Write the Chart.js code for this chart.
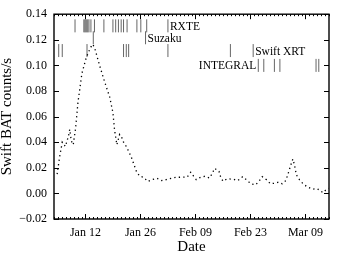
<!doctype html>
<html>
<head>
<meta charset="utf-8">
<title>Swift BAT light curve</title>
<script src="https://cdn.jsdelivr.net/npm/chart.js@4/dist/chart.umd.min.js"></script>
<style>
  html, body { margin: 0; padding: 0; background: #fff; }
  #wrap { width: 342px; height: 255px; }
</style>
</head>
<body>
<div id="wrap"><canvas id="c"></canvas></div>
<script>
// day of year (Jan 12 = 12, Feb 09 = 40, Mar 09 = 68)
var batDays = [4.8, 5.4, 6.1, 6.9, 7.7, 8.0, 8.4, 8.9, 9.5, 10.1, 11.1, 12.2, 13.3, 13.9,
  14.5, 15.6, 16.8, 18.2, 19.0, 19.4, 20.0, 20.7, 21.2, 21.7, 22.4, 23.6, 25.0, 25.8,
  26.8, 27.9, 29.0, 30.2, 31.4, 32.6, 33.8, 35.2, 36.5, 37.9, 38.8, 39.4, 40.2, 41.3,
  42.4, 43.6, 44.3, 44.9, 46.0, 46.4, 47.0, 48.1, 49.6, 50.8, 52.0, 53.0, 54.1, 55.3,
  56.2, 57.0, 58.1, 59.1, 60.2, 61.2, 62.1, 63.0, 63.5, 64.3, 64.8, 65.2, 65.7, 66.5,
  67.4, 68.5, 69.8, 71.0, 72.5, 73.3, 73.9];
var batRate = [0.015, 0.028, 0.040, 0.0366, 0.045, 0.050, 0.041, 0.038, 0.051, 0.071, 0.0937, 0.106, 0.114, 0.1165,
  0.112, 0.100, 0.088, 0.075, 0.063, 0.050, 0.038, 0.046, 0.044, 0.040, 0.0366, 0.029, 0.017, 0.0134,
  0.0126, 0.0093, 0.0108, 0.0118, 0.010, 0.0108, 0.0118, 0.0126, 0.0126, 0.0128, 0.0165, 0.014, 0.0108, 0.0126,
  0.0134, 0.012, 0.0157, 0.0196, 0.0172, 0.013, 0.0095, 0.0114, 0.0111, 0.010, 0.013, 0.0106, 0.0075, 0.0067,
  0.0095, 0.013, 0.0106, 0.0075, 0.008, 0.0088, 0.0075, 0.010, 0.0145, 0.0224, 0.0268, 0.0224, 0.0145, 0.0106,
  0.0075, 0.005, 0.0033, 0.0037, 0.0006, 0.003, 0.004];

// observation days per instrument
var rxteDays = [9.35, 11.6, 11.85, 12.1, 12.35, 12.6, 12.9, 13.4, 14.3, 16.7, 19.0, 19.7, 20.4, 21.1, 21.7, 22.6, 25.1, 26.1, 27.6, 33.0];
var suzakuDays = [14.0, 27.3];
var swiftXrtDays = [5.2, 6.1, 12.4, 21.7, 22.4, 23.0, 33.0, 48.9, 54.7];
var integralDays = [56.0, 57.4, 60.1, 61.5, 70.7, 71.4];

var rowLevel = { rxte: 0.1309, suzaku: 0.1216, swift: 0.1116, integral: 0.1000 };

var xTickDays = [12, 26, 40, 54, 68];
var xTickLabels = ["Jan 12", "Jan 26", "Feb 09", "Feb 23", "Mar 09"];
var yTicks = [-0.02, 0.00, 0.02, 0.04, 0.06, 0.08, 0.10, 0.12, 0.14];

var serif = "'Liberation Serif', 'DejaVu Serif', serif";

function toPoints(xs, ys) {
  return xs.map(function (d, i) { return { x: d, y: ys[i] }; });
}
function rowPoints(xs, level) {
  return xs.map(function (d) { return { x: d, y: level }; });
}
function markSet(label, xs, level) {
  return {
    type: 'scatter', label: label, data: rowPoints(xs, level),
    pointStyle: 'line', rotation: 90, pointRadius: 6.5,
    borderColor: '#666', pointBorderWidth: 1, backgroundColor: '#666'
  };
}

// frame, inward ticks and instrument labels
var framePlugin = {
  id: 'frame',
  afterDraw: function (chart) {
    var ctx = chart.ctx, a = chart.chartArea;
    var xs = chart.scales.x, ys = chart.scales.y;
    ctx.save();
    ctx.strokeStyle = '#000';
    ctx.lineWidth = 1;
    ctx.beginPath();
    // daily minor ticks on top and bottom
    for (var d = Math.ceil(xs.min); d <= xs.max; d++) {
      var px = Math.round(xs.getPixelForValue(d)) + 0.5;
      var len = xTickDays.indexOf(d) >= 0 ? 5 : 2;
      ctx.moveTo(px, a.bottom); ctx.lineTo(px, a.bottom - len);
      ctx.moveTo(px, a.top); ctx.lineTo(px, a.top + len);
    }
    yTicks.forEach(function (v) {
      var py = Math.round(ys.getPixelForValue(v)) + 0.5;
      ctx.moveTo(a.left, py); ctx.lineTo(a.left + 5, py);
      ctx.moveTo(a.right, py); ctx.lineTo(a.right - 5, py);
    });
    ctx.stroke();
    ctx.lineWidth = 1.4;
    ctx.strokeRect(a.left, a.top, a.right - a.left, a.bottom - a.top);

    ctx.fillStyle = '#000';
    ctx.font = "11.5px " + serif;
    ctx.textBaseline = 'middle';
    ctx.textAlign = 'left';
    function after(days, level, text) {
      var px = xs.getPixelForValue(days[days.length - 1]) + 2;
      ctx.fillText(text, px, ys.getPixelForValue(level) + 1);
    }
    after(rxteDays, rowLevel.rxte, 'RXTE');
    after(suzakuDays, rowLevel.suzaku, 'Suzaku');
    after(swiftXrtDays, rowLevel.swift, 'Swift XRT');
    ctx.textAlign = 'right';
    ctx.fillText('INTEGRAL', xs.getPixelForValue(integralDays[0]) - 2, ys.getPixelForValue(rowLevel.integral) + 1);
    ctx.restore();
  }
};

new Chart(document.getElementById('c'), {
  type: 'line',
  data: {
    datasets: [
      {
        label: 'Swift BAT', data: toPoints(batDays, batRate),
        borderColor: '#000', borderWidth: 1.3, borderDash: [1.3, 3.2],
        pointRadius: 0, fill: false, tension: 0
      },
      markSet('RXTE', rxteDays, rowLevel.rxte),
      markSet('Suzaku', suzakuDays, rowLevel.suzaku),
      markSet('Swift XRT', swiftXrtDays, rowLevel.swift),
      markSet('INTEGRAL', integralDays, rowLevel.integral)
    ]
  },
  options: {
    responsive: true,
    maintainAspectRatio: false,
    animation: false,
    events: [],
    layout: { padding: { top: 12, right: 13, left: 0, bottom: 0 } },
    plugins: { legend: { display: false }, tooltip: { enabled: false } },
    scales: {
      x: {
        type: 'linear', min: 4, max: 74,
        grid: { display: false, drawTicks: false },
        border: { display: false },
        afterBuildTicks: function (s) { s.ticks = xTickDays.map(function (v) { return { value: v }; }); },
        afterFit: function (s) { s.height = 36; },
        ticks: {
          padding: 7, maxRotation: 0, color: '#000',
          font: { family: serif, size: 12 },
          callback: function (v) { var i = xTickDays.indexOf(v); return i >= 0 ? xTickLabels[i] : ''; }
        },
        title: {
          display: true, text: 'Date', color: '#000',
          font: { family: serif, size: 15, lineHeight: 1 },
          padding: { top: 0, bottom: 0 }
        }
      },
      y: {
        min: -0.02, max: 0.14,
        grid: { display: false, drawTicks: false },
        border: { display: false },
        afterBuildTicks: function (s) { s.ticks = yTicks.map(function (v) { return { value: v }; }); },
        afterFit: function (s) { s.width = 54; },
        ticks: {
          padding: 7, color: '#000',
          font: { family: serif, size: 12 },
          callback: function (v) { return v.toFixed(2).replace('-', '\u2212'); }
        },
        title: {
          display: true, text: 'Swift BAT counts/s', color: '#000',
          font: { family: serif, size: 15, lineHeight: 1 },
          padding: { top: 0, bottom: 0 }
        }
      }
    }
  },
  plugins: [framePlugin]
});
</script>
</body>
</html>
